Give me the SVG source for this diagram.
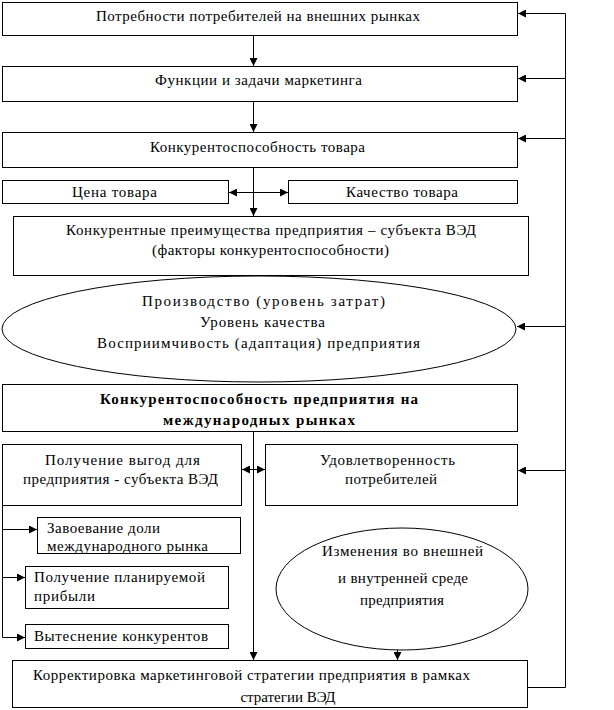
<svg xmlns="http://www.w3.org/2000/svg" width="614" height="710" viewBox="0 0 614 710">
<defs>
<marker id="ah" viewBox="0 0 8 8" refX="8" refY="4" markerWidth="8" markerHeight="8" markerUnits="userSpaceOnUse" orient="auto">
<path d="M0,0 L8,4 L0,8 z" fill="#000"/>
</marker>
</defs>
<style>
rect, ellipse { fill: #fff; stroke: #000; stroke-width: 1; }
text { font-family: "Liberation Serif", "Times New Roman", serif; font-size: 15px; fill: #000; }
.c { text-anchor: middle; }
.b { font-weight: bold; }
.ln { fill: none; stroke: #000; stroke-width: 1; }
.ar { fill: none; stroke: #000; stroke-width: 1; marker-end: url(#ah); }
</style>
<rect x="0" y="0" width="614" height="710" style="fill:#fff;stroke:none"/>

<g id="n1"><rect x="2.5" y="2.5" width="515" height="33"/><text class="c" x="258" y="21" textLength="324">Потребности потребителей на внешних рынках</text></g>
<g id="n2"><rect x="2.5" y="66.5" width="515" height="35"/><text class="c" x="258.5" y="85" textLength="207">Функции и задачи маркетинга</text></g>
<g id="n3"><rect x="2.5" y="132.5" width="515" height="35"/><text class="c" x="257.5" y="152" textLength="215">Конкурентоспособность товара</text></g>
<g id="n4"><rect x="2.5" y="180.5" width="226" height="23"/><text class="c" x="114.5" y="197" textLength="85">Цена товара</text></g>
<g id="n5"><rect x="288.5" y="180.5" width="229" height="23"/><text class="c" x="402" y="197" textLength="112">Качество товара</text></g>
<g id="n6"><rect x="13.5" y="216.5" width="515" height="59"/><text class="c" x="271" y="235" textLength="410">Конкурентные преимущества предприятия – субъекта ВЭД</text><text class="c" x="270.5" y="255" textLength="237">(факторы конкурентоспособности)</text></g>
<g id="n7"><ellipse cx="259" cy="329" rx="257" ry="53"/><text class="c" x="263.5" y="306" textLength="243">Производство (уровень затрат)</text><text class="c" x="262.5" y="327" textLength="125">Уровень качества</text><text class="c" x="258.5" y="348" textLength="323">Восприимчивость (адаптация) предприятия</text></g>
<g id="n8"><rect x="2.5" y="384.5" width="515" height="47"/><text class="c b" x="259" y="404" textLength="318">Конкурентоспособность предприятия на</text><text class="c b" x="259" y="425" textLength="192">международных рынках</text></g>
<g id="n9"><rect x="2.5" y="444.5" width="239" height="61"/><text class="c" x="122.5" y="465" textLength="155">Получение выгод для</text><text class="c" x="120.5" y="484" textLength="195">предприятия - субъекта ВЭД</text></g>
<g id="n10"><rect x="265.5" y="444.5" width="252" height="61"/><text class="c" x="387.5" y="465" textLength="135">Удовлетворенность</text><text class="c" x="391" y="484" textLength="92">потребителей</text></g>
<g id="n11"><rect x="37.5" y="517.5" width="203" height="36"/><text x="47" y="533" textLength="113">Завоевание доли</text><text x="47" y="551" textLength="161">международного рынка</text></g>
<g id="n12"><rect x="25.5" y="566.5" width="203" height="42"/><text x="34" y="582" textLength="171">Получение планируемой</text><text x="34" y="601" textLength="61">прибыли</text></g>
<g id="n13"><rect x="25.5" y="624.5" width="203" height="24"/><text x="34" y="641" textLength="174">Вытеснение конкурентов</text></g>
<g id="n14"><ellipse cx="402" cy="589" rx="126" ry="61"/><text class="c" x="402.5" y="556" textLength="161">Изменения во внешней</text><text class="c" x="403" y="583" textLength="130">и внутренней среде</text><text class="c" x="402" y="605" textLength="84">предприятия</text></g>
<g id="n15"><rect x="12.5" y="660.5" width="515" height="47"/><text class="c" x="251.5" y="680" textLength="437">Корректировка маркетинговой стратегии предприятия в рамках</text><text class="c" x="288" y="702">стратегии ВЭД</text></g>

<g id="connectors">
<line class="ar" x1="253.5" y1="36" x2="253.5" y2="66"/>
<line class="ar" x1="253.5" y1="102" x2="253.5" y2="132"/>
<line class="ar" x1="253.5" y1="168" x2="253.5" y2="216"/>
<line class="ar" x1="258" y1="192.5" x2="229" y2="192.5"/>
<line class="ar" x1="250" y1="192.5" x2="288" y2="192.5"/>
<line class="ln" x1="253.5" y1="432" x2="253.5" y2="652"/>
<line class="ar" x1="253.5" y1="640" x2="253.5" y2="660"/>
<line class="ar" x1="256" y1="469.5" x2="242" y2="469.5"/>
<line class="ar" x1="251" y1="469.5" x2="265" y2="469.5"/>
<path class="ln" d="M528,687.5 H565.5 V13.5"/>
<line class="ar" x1="565.5" y1="13.5" x2="518" y2="13.5"/>
<line class="ar" x1="565.5" y1="78.5" x2="518" y2="78.5"/>
<line class="ar" x1="565.5" y1="138.5" x2="518" y2="138.5"/>
<line class="ar" x1="565.5" y1="326.5" x2="517" y2="326.5"/>
<line class="ar" x1="565.5" y1="470.5" x2="518" y2="470.5"/>
<path class="ln" d="M2.5,506 V637.5"/>
<line class="ar" x1="2.5" y1="529.5" x2="37" y2="529.5"/>
<line class="ar" x1="2.5" y1="577.5" x2="25" y2="577.5"/>
<line class="ar" x1="2.5" y1="637.5" x2="25" y2="637.5"/>
<line class="ar" x1="397.5" y1="650" x2="397.5" y2="660"/>
</g>
</svg>
